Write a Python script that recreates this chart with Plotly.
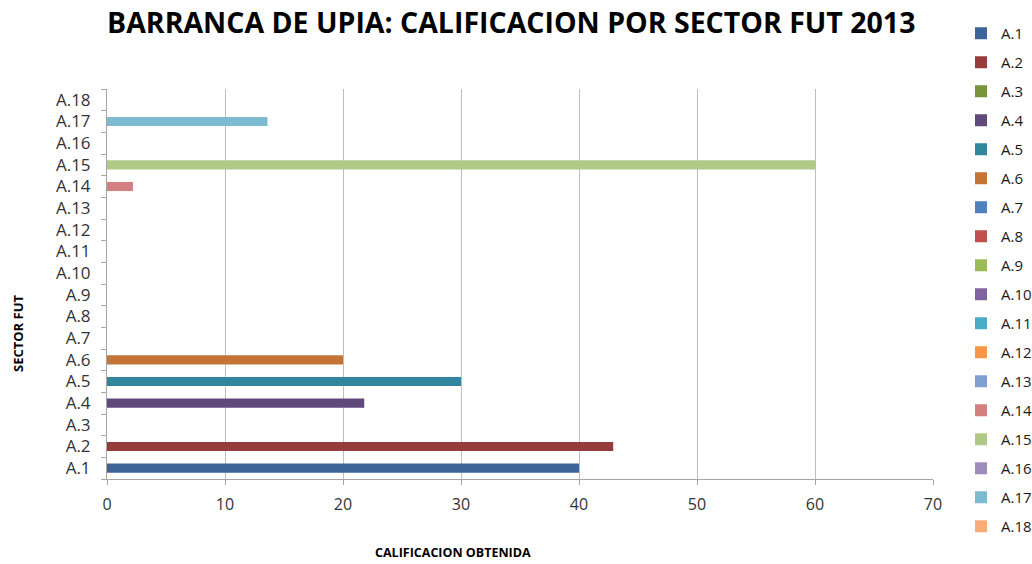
import plotly.graph_objects as go

categories = ["A.1", "A.2", "A.3", "A.4", "A.5", "A.6", "A.7", "A.8", "A.9",
              "A.10", "A.11", "A.12", "A.13", "A.14", "A.15", "A.16", "A.17", "A.18"]
values = [40, 42.9, 0, 21.8, 30, 20, 0, 0, 0, 0, 0, 0, 0, 2.2, 60, 0, 13.6, 0]
colors = ["#3C6496", "#963C3C", "#77933C", "#604A7B", "#31859C", "#C47434",
          "#4F81BD", "#C0504D", "#9BBB59", "#8064A2", "#4BACC6", "#F79646",
          "#7F9FD0", "#D48080", "#B0C987", "#9E8DB8", "#7CBBD0", "#F8AC78"]

title_text = "BARRANCA DE UPIA: CALIFICACION POR SECTOR FUT 2013"
x_title = "CALIFICACION OBTENIDA"
y_title = "SECTOR FUT"

W, H = 1032, 564
pl, pr, pt, pb = 107, 99, 89, 85
pw, ph = W - pl - pr, H - pt - pb

def px_to_paper(x, y):
    return (x - pl) / pw, 1 - (y - pt) / ph

fig = go.Figure()
for cat, val, col in zip(categories, values, colors):
    fig.add_trace(go.Bar(
        x=[val], y=[cat], name=cat, orientation="h",
        marker=dict(color=col, line=dict(width=0)),
        width=0.42, legendgroup=cat,
    ))

font_main = "Open Sans"
legend_cfg = dict(
    x=961 / W, xref="container", y=1 - 17 / H, yref="container", yanchor="top",
    xanchor="left",
    font=dict(family=font_main, size=15, color="#1a1a1a"),
    tracegroupgap=6.5, traceorder="grouped",
    bgcolor="rgba(0,0,0,0)",
)
fig.update_layout(
    width=W, height=H,
    paper_bgcolor="white", plot_bgcolor="white",
    margin=dict(l=pl, r=pr, t=pt, b=pb, autoexpand=False),
    barmode="overlay",
    showlegend=True,
    legend=legend_cfg,
)
try:
    fig.update_layout(legend_maxheight=560)
except Exception:
    pass

tx, ty = px_to_paper(511, 22)
ax_x, ax_y = px_to_paper(453, 552)
ay_x, ay_y = px_to_paper(18, 333)

fig.add_annotation(text="<b>" + title_text + "</b>", x=tx, y=ty, xref="paper", yref="paper",
                   showarrow=False, font=dict(family=font_main, size=28.5, color="#000000"),
                   xanchor="center", yanchor="middle")
fig.add_annotation(text="<b>" + x_title + "</b>", x=ax_x, y=ax_y, xref="paper", yref="paper",
                   showarrow=False, font=dict(family=font_main, size=12.5, color="#000000"),
                   xanchor="center", yanchor="middle")
fig.add_annotation(text="<b>" + y_title + "</b>", x=ay_x, y=ay_y, xref="paper", yref="paper",
                   showarrow=False, font=dict(family=font_main, size=13, color="#000000"),
                   textangle=-90, xanchor="center", yanchor="middle")

fig.update_xaxes(
    range=[0, 70], dtick=10, tick0=0,
    showgrid=True, gridcolor="#BEBEBE", gridwidth=1,
    showline=True, linecolor="#A6A6A6", linewidth=1,
    ticks="outside", ticklen=5, tickcolor="#A6A6A6",
    tickfont=dict(family=font_main, size=16, color="#333333"),
    ticklabelstandoff=6,
    zeroline=False, mirror=False,
)
fig.update_yaxes(
    type="category", categoryorder="array", categoryarray=categories,
    range=[-0.5, 17.5],
    showgrid=False,
    showline=True, linecolor="#A6A6A6", linewidth=1,
    ticks="outside", ticklen=5, tickcolor="#A6A6A6", tickson="boundaries",
    tickfont=dict(family=font_main, size=17, color="#333333"),
    ticklabelstandoff=12,
)

fig.write_html("out.html", config={"displayModeBar": False},
               post_script="document.body.style.margin='0';")
